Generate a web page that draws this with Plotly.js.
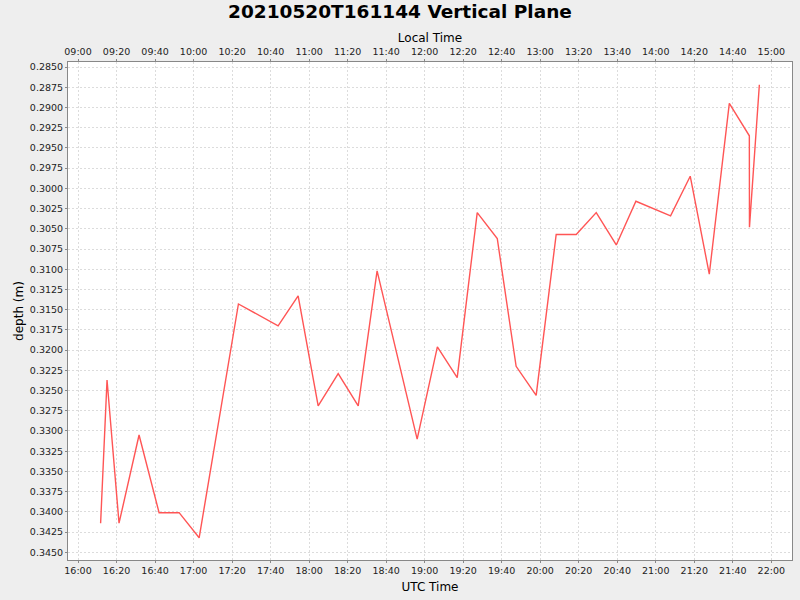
<!DOCTYPE html>
<html>
<head>
<meta charset="utf-8">
<script src="https://cdn.plot.ly/plotly-3.0.1.min.js"></script>
<style>html,body{margin:0;padding:0;background:#eeeeee;}#chart{width:800px;height:600px;}</style>
</head>
<body>
<div id="chart"></div>
<script>
// UTC sample times
const utcTimes = [
  "2021-05-20 16:11:44","2021-05-20 16:15:04","2021-05-20 16:21:18","2021-05-20 16:31:42",
  "2021-05-20 16:42:06","2021-05-20 16:52:30","2021-05-20 17:02:54","2021-05-20 17:23:18",
  "2021-05-20 17:43:54","2021-05-20 17:54:18","2021-05-20 18:04:42","2021-05-20 18:15:06",
  "2021-05-20 18:25:30","2021-05-20 18:35:18","2021-05-20 18:56:06","2021-05-20 19:06:36",
  "2021-05-20 19:16:54","2021-05-20 19:27:18","2021-05-20 19:37:42","2021-05-20 19:47:30",
  "2021-05-20 19:57:54","2021-05-20 20:08:18","2021-05-20 20:18:42","2021-05-20 20:29:06",
  "2021-05-20 20:39:30","2021-05-20 20:49:42","2021-05-20 21:07:42","2021-05-20 21:17:54",
  "2021-05-20 21:27:48","2021-05-20 21:38:12","2021-05-20 21:48:36","2021-05-20 21:48:40",
  "2021-05-20 21:53:48"
];
// depth in metres
const depth = [
  0.3414,0.3237,0.3414,0.3305,0.3401,0.3401,0.3432,0.3143,
  0.3170,0.3133,0.3269,0.3229,0.3269,0.3102,0.3310,0.3196,
  0.3234,0.3030,0.3062,0.3220,0.3256,0.3057,0.3057,0.3030,
  0.3070,0.3016,0.3034,0.2985,0.3106,0.2895,0.2935,0.3048,
  0.2872
];
const utcOffsetHours = -7;
const utcRange = ["2021-05-20 15:54:48","2021-05-20 22:10:45"];
const depthRange = [0.34595, 0.28438];
const titleText = "20210520T161144 Vertical Plane";

function shift(s, h){
  const d = new Date(s.replace(" ","T")+"Z");
  d.setTime(d.getTime()+h*3600000);
  return d.toISOString().slice(0,19).replace("T"," ");
}
const localTimes = utcTimes.map(t=>shift(t,utcOffsetHours));
const localRange = utcRange.map(t=>shift(t,utcOffsetHours));

const font = "DejaVu Sans, Liberation Sans, sans-serif";
const gridCommon = {
  showgrid:true, gridcolor:"#dcdcdc", griddash:"2px,2px", gridwidth:1,
  ticks:"outside", ticklen:2, tickcolor:"#888888",
  tickfont:{family:font,size:9.5,color:"#222222"},
  zeroline:false
};

const traces = [
  {x:utcTimes, y:depth, type:"scatter", mode:"lines",
   line:{color:"#ff5555", width:1.4}, xaxis:"x", yaxis:"y", hoverinfo:"x+y"},
  {x:localTimes, y:depth, type:"scatter", mode:"lines",
   line:{color:"rgba(0,0,0,0)", width:0}, xaxis:"x2", yaxis:"y", hoverinfo:"skip", showlegend:false}
];

const layout = {
  width:800, height:600,
  paper_bgcolor:"#eeeeee", plot_bgcolor:"#ffffff",
  margin:{l:68, r:8, t:62, b:40},
  showlegend:false,
  title:{text:"<b>"+titleText+"</b>", font:{family:font,size:18.5,color:"#000000"},
         x:0.5, xanchor:"center", y:1-12/600, yanchor:"middle", yref:"container"},
  xaxis:Object.assign({}, gridCommon, {
    type:"date", range:utcRange, tickformat:"%H:%M", dtick:1200000,
    tick0:"2021-05-20 16:00:00",
    showline:true, linecolor:"#888888", linewidth:1, mirror:false,
    title:{text:"UTC Time", font:{family:font,size:12,color:"#000000"}, standoff:7}
  }),
  xaxis2:Object.assign({}, gridCommon, {
    type:"date", range:localRange, tickformat:"%H:%M", dtick:1200000,
    tick0:"2021-05-20 09:00:00",
    overlaying:"x", side:"top", showgrid:false,
    showline:true, linecolor:"#888888", linewidth:1,
    title:{text:"Local Time", font:{family:font,size:12,color:"#000000"}, standoff:1}
  }),
  yaxis:Object.assign({}, gridCommon, {
    range:depthRange, dtick:0.0025, tick0:0.285, tickformat:".4f",
    showline:true, linecolor:"#888888", linewidth:1, mirror:true,
    title:{text:"depth (m)", font:{family:font,size:12,color:"#000000"}, standoff:3}
  })
};

Plotly.newPlot("chart", traces, layout, {displayModeBar:false, staticPlot:true});
</script>
</body>
</html>
